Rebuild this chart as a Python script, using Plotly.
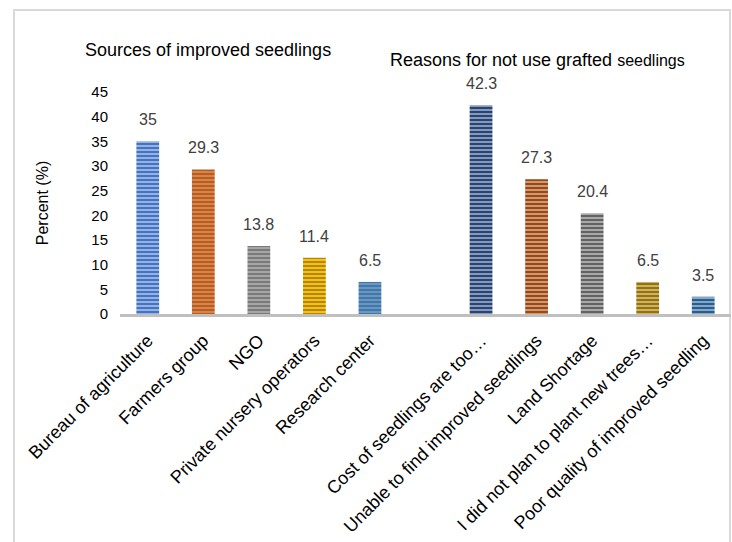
import plotly.graph_objects as go

# Two survey questions shown side by side on one category axis
source_labels = ["Bureau of agriculture", "Farmers group", "NGO",
                 "Private nursery operators", "Research center"]
source_values = [35, 29.3, 13.8, 11.4, 6.5]
source_colors = ["#4472C4", "#ED7D31", "#A5A5A5", "#FFC000", "#5B9BD5"]

reason_labels = ["Cost of seedlings are too…", "Unable to find improved seedlings",
                 "Land Shortage", "I did not plan to plant new trees…",
                 "Poor quality of improved seedling"]
reason_values = [42.3, 27.3, 20.4, 6.5, 3.5]
reason_colors = ["#264478", "#9E480E", "#636363", "#997300", "#255E91"]

y_ticks = [0, 5, 10, 15, 20, 25, 30, 35, 40, 45]

# one empty slot separates the two groups
source_x = list(range(len(source_labels)))
reason_x = [len(source_labels) + 1 + i for i in range(len(reason_labels))]

labels = source_labels + reason_labels
values = source_values + reason_values
colors = source_colors + reason_colors
xs = source_x + reason_x

FONT = "Liberation Sans, Arial"

fig = go.Figure()
fig.add_trace(go.Bar(
    x=xs, y=values, width=0.41,
    marker=dict(
        color=colors,
        line=dict(width=0),
        pattern=dict(shape="-", size=4, solidity=0.45,
                     fgcolor="rgba(255,255,255,0.55)", fillmode="overlay"),
    ),
    showlegend=False, hoverinfo="x+y",
))

annotations = []
for x, v in zip(xs, values):
    annotations.append(dict(
        x=x, y=v, xref="x", yref="y", text=f"{v:g}", showarrow=False,
        yanchor="bottom", yshift=11,
        font=dict(family=FONT, size=16, color="#404040"),
    ))

annotations.append(dict(
    x=(208 - 120) / 611, y=(314 - 50) / 222, xref="paper", yref="paper",
    text="Sources of improved seedlings", showarrow=False,
    xanchor="center", yanchor="middle",
    font=dict(family=FONT, size=18, color="#000000"),
))
annotations.append(dict(
    x=(537 - 120) / 611, y=(314 - 60) / 222, xref="paper", yref="paper",
    text='Reasons for not use grafted <span style="font-size:16px">seedlings</span>',
    showarrow=False, xanchor="center", yanchor="middle",
    font=dict(family=FONT, size=18, color="#000000"),
))

fig.update_layout(
    width=732, height=542,
    margin=dict(l=120, r=1, t=92, b=228),
    paper_bgcolor="white", plot_bgcolor="white",
    annotations=annotations,
    shapes=[dict(
        type="rect", xref="paper", yref="paper",
        x0=(14 - 120) / 611, x1=(730 - 120) / 611,
        y0=(314 - 560) / 222, y1=(314 - 10) / 222,
        line=dict(color="#D9D9D9", width=2), fillcolor="rgba(0,0,0,0)",
        layer="below",
    )],
    font=dict(family=FONT, color="#000000"),
)

fig.update_xaxes(
    range=[-0.5, 10.5], tickmode="array", tickvals=xs, ticktext=labels,
    tickangle=-45, tickfont=dict(size=18, color="#000000"),
    showline=True, linecolor="#BFBFBF", linewidth=3,
    showgrid=False, zeroline=False,
    ticks="outside", ticklen=6, tickcolor="rgba(0,0,0,0)",
)
fig.update_yaxes(
    range=[0, 45], tickmode="array", tickvals=y_ticks,
    tickfont=dict(size=15, color="#000000"),
    showgrid=False, zeroline=False, showline=False,
    ticks="outside", ticklen=8, tickcolor="rgba(0,0,0,0)",
    title=dict(text="Percent (%)", font=dict(size=16, color="#000000"), standoff=38),
)

fig.write_html("out.html")
